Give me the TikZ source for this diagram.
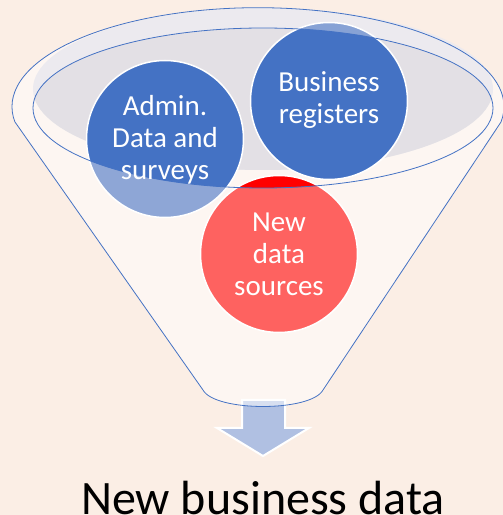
\documentclass[tikz,border=0pt]{standalone}
\usepackage{fontspec}
\setmainfont{Carlito}
\definecolor{bgpeach}{RGB}{251,238,229}
\definecolor{funnelblue}{RGB}{68,114,196}
\definecolor{topgray}{RGB}{236,234,239}
\definecolor{lensgray}{RGB}{227,224,229}
\definecolor{arrowblue}{RGB}{176,192,226}
\tikzset{
  bubble label/.style={text=white, align=center, anchor=base, font=\fontsize{29}{32}\selectfont},
  funnel line/.style={draw=funnelblue, line width=0.8pt},
}
\begin{document}
\begin{tikzpicture}[x=1pt,y=1pt]
    \useasboundingbox (0,0) rectangle (503,515);
    \fill[bgpeach] (0,0) rectangle (503,515);
    % Draw the arrow below the funnel.
    \draw[white, line width=2pt, fill=arrowblue] (242,115) -- (285,115) -- (285,87) -- (309,87) -- (263,59) -- (217,87) -- (242,87) -- cycle;
    % Draw the body of the funnel.
    \fill[white, fill opacity=0.5] (15,393) -- (203,125) .. controls (215,103) and (311,103) .. (323,125) -- (501,393) arc[start angle=-8.9, end angle=188.9, x radius=246, y radius=99];
    % Draw the top opening (light band and darker lens).
    \fill[topgray] (263,426) ellipse [x radius=230, y radius=81];
    \begin{scope}
      \clip (263,407) ellipse [x radius=230, y radius=80];
      \fill[lensgray] (263,426) ellipse [x radius=230, y radius=81];
    \end{scope}
    % Draw the three sources, see-through outside the opening.
    \foreach \cx/\cy/\col in {165/376/funnelblue, 329/414/funnelblue, 279/261/red}
      \fill[\col, fill opacity=0.6] (\cx,\cy) circle[radius=78.5];
    \begin{scope}
      \clip (263,407) ellipse [x radius=230, y radius=80];
      \foreach \cx/\cy/\col in {165/376/funnelblue, 329/414/funnelblue, 279/261/red}
        \fill[\col] (\cx,\cy) circle[radius=78.5];
    \end{scope}
    \foreach \cx/\cy in {165/376, 329/414, 279/261}
      \draw[white, line width=1.5pt] (\cx,\cy) circle[radius=78.5];
    % Draw the outlines of the funnel.
    \draw[funnel line] (263,407) ellipse [x radius=230, y radius=80];
    \draw[funnel line] (15,393) -- (203,125) .. controls (215,103) and (311,103) .. (323,125) -- (501,393) arc[start angle=-8.9, end angle=188.9, x radius=246, y radius=99];
    % Draw the labels (base is the last line).
    \node[bubble label] (admin) at (165,335) {Admin.\\Data and\\surveys};
    \node[bubble label] (registers) at (329,391) {Business\\registers};
    \node[bubble label] (sources) at (279,219) {New\\data\\sources};
    \node[anchor=base, font=\fontsize{48}{52}\selectfont] (result) at (263,1) {New business data};
\end{tikzpicture}
\end{document}
